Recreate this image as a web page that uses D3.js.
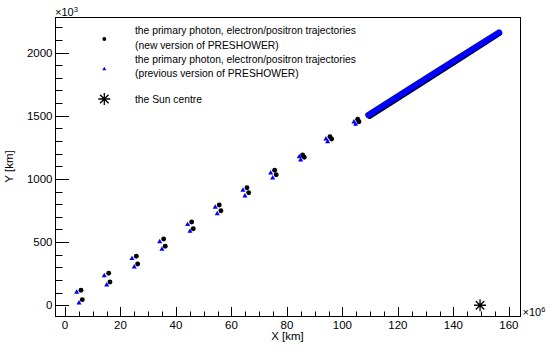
<!DOCTYPE html>
<html>
<head>
<meta charset="utf-8">
<script src="https://cdn.jsdelivr.net/npm/d3@7"></script>
<style>
  body { margin: 0; background: #fff; }
  text { font-family: "Liberation Sans", Arial, sans-serif; fill: #000; }
</style>
</head>
<body>
<svg id="chart" width="550" height="349"></svg>
<script>
// x in 10^6 km, y in 10^3 km
// new version of PRESHOWER (black circles)
var newX = [5.77, 6.23, 15.75, 16.22, 25.7, 26.2, 35.57, 36.14, 45.66, 46.23, 55.6, 56.2,
            65.59, 66.2, 75.57, 76.14, 85.66, 86.24, 95.5, 96.1, 105.5, 105.95];
var newY = [118.7, 44.3, 253, 184.3, 387.7, 326.7, 524.5, 466.8, 659, 606, 793.5, 748.4,
            930.4, 890.8, 1068, 1033, 1189, 1171, 1334, 1315.7, 1471.5, 1452.5];
// previous version of PRESHOWER (blue triangles)
var prevX = [4.22, 5.05, 14.16, 15.03, 24.14, 24.97, 34.13, 34.95, 44.2, 45.05, 54.16, 54.88,
             64.14, 64.86, 74.13, 74.85, 84.43, 84.94, 94.05, 94.67, 104.14, 104.76];
var prevY = [102.8, 18.2, 234, 160.6, 368.7, 303, 503, 443, 637.7, 585.4, 775.3, 724.7,
             909.8, 864.7, 1046.7, 1007, 1175.6, 1149.5, 1315.7, 1294, 1450, 1432];
// dense part of the trajectories (markers merge into a band)
var denseNewX = [109.8, 125.4, 141.2, 156.6];
var denseNewY = [1496, 1714, 1935, 2152];
var densePrevX = [109.3, 125, 141, 156.5];
var densePrevY = [1505, 1724, 1946, 2160];
// the Sun centre
var sunX = [149.6];
var sunY = [0];

var xTicks = [0, 20, 40, 60, 80, 100, 120, 140, 160];
var yTicks = [0, 500, 1000, 1500, 2000];
var legendLabels = [
  ["the primary photon, electron/positron trajectories", "(new version of PRESHOWER)"],
  ["the primary photon, electron/positron trajectories", "(previous version of PRESHOWER)"],
  ["the Sun centre"]
];

var svg = d3.select("#chart");
var padL = 55, padR = 520, padT = 17, padB = 316;

var x = d3.scaleLinear().domain([-3.6, 164]).range([padL, padR]);
var y = d3.scaleLinear().domain([-85, 2281]).range([padB, padT]);

// frame
svg.append("rect")
  .attr("x", padL + 0.5).attr("y", padT + 0.5)
  .attr("width", padR - padL).attr("height", padB - padT)
  .attr("fill", "none").attr("stroke", "#000").attr("stroke-width", 1);

// ticks (inward, ROOT style)
var g = svg.append("g").attr("stroke", "#000").attr("stroke-width", 1);
d3.range(0, 161, 5).forEach(function(v) {
  var major = v % 20 === 0;
  var px = Math.round(x(v)) + 0.5;
  g.append("line").attr("x1", px).attr("x2", px)
    .attr("y1", padB).attr("y2", padB - (major ? 9 : 4.5));
});
d3.range(0, 2201, 100).forEach(function(v) {
  var major = v % 500 === 0;
  var py = Math.round(y(v)) + 0.5;
  g.append("line").attr("y1", py).attr("y2", py)
    .attr("x1", padL).attr("x2", padL + (major ? 14 : 7.5));
});

svg.selectAll(".xlab").data(xTicks).enter().append("text")
  .attr("class", "xlab")
  .attr("x", function(d) { return x(d); })
  .attr("y", 329)
  .attr("text-anchor", "middle")
  .style("font-size", "11.5px")
  .text(function(d) { return d; });

svg.selectAll(".ylab").data(yTicks).enter().append("text")
  .attr("class", "ylab")
  .attr("x", 52.5)
  .attr("y", function(d) { return y(d); })
  .attr("dy", "0.36em")
  .attr("text-anchor", "end")
  .style("font-size", "11.5px")
  .text(function(d) { return d; });

// exponents
var e3 = svg.append("text").attr("x", 55).attr("y", 16).style("font-size", "11px");
e3.append("tspan").text("\u00d710");
e3.append("tspan").attr("dy", -4.5).style("font-size", "7.5px").text("3");
var e6 = svg.append("text").attr("x", 522.5).attr("y", 316).style("font-size", "11px");
e6.append("tspan").text("\u00d710");
e6.append("tspan").attr("dy", -4.5).style("font-size", "7.5px").text("6");

// axis titles
svg.append("text")
  .attr("x", (padL + padR) / 2).attr("y", 339.5)
  .attr("text-anchor", "middle")
  .style("font-size", "11.5px")
  .text("X [km]");
svg.append("text")
  .attr("transform", "translate(13," + ((padT + padB) / 2) + ") rotate(-90)")
  .attr("text-anchor", "middle")
  .style("font-size", "11.5px")
  .text("Y [km]");

// dense bands
var band = d3.line()
  .x(function(d) { return x(d[0]); })
  .y(function(d) { return y(d[1]); });
svg.append("path")
  .attr("d", band(d3.zip(denseNewX, denseNewY)))
  .attr("fill", "none").attr("stroke", "#000")
  .attr("stroke-width", 5.5).attr("stroke-linecap", "round");
svg.append("path")
  .attr("d", band(d3.zip(densePrevX, densePrevY)))
  .attr("fill", "none").attr("stroke", "#0000ff")
  .attr("stroke-width", 6).attr("stroke-linecap", "round");

var circle = d3.symbol().type(d3.symbolCircle).size(19);
var tri = d3.symbol().type(d3.symbolTriangle).size(11);

svg.selectAll(".prev").data(d3.zip(prevX, prevY)).enter().append("path")
  .attr("class", "prev")
  .attr("d", tri)
  .attr("transform", function(d) { return "translate(" + x(d[0]) + "," + y(d[1]) + ")"; })
  .attr("fill", "#0000ff");

svg.selectAll(".new").data(d3.zip(newX, newY)).enter().append("path")
  .attr("class", "new")
  .attr("d", circle)
  .attr("transform", function(d) { return "translate(" + x(d[0]) + "," + y(d[1]) + ")"; })
  .attr("fill", "#000");

function star(r) {
  var k = r * Math.SQRT1_2;
  return "M" + (-r) + ",0L" + r + ",0M0," + (-r) + "L0," + r +
         "M" + (-k) + "," + (-k) + "L" + k + "," + k +
         "M" + (-k) + "," + k + "L" + k + "," + (-k);
}

svg.selectAll(".sun").data(d3.zip(sunX, sunY)).enter().append("path")
  .attr("class", "sun")
  .attr("d", star(6))
  .attr("transform", function(d) { return "translate(" + x(d[0]) + "," + y(d[1]) + ")"; })
  .attr("fill", "none").attr("stroke", "#000").attr("stroke-width", 1.3);

// legend
var lg = svg.append("g");
var markerY = [39, 69, 99];
var textY = [[33.8, 48.5], [62.8, 77.2], [103]];
lg.append("path").attr("d", d3.symbol().type(d3.symbolCircle).size(12))
  .attr("transform", "translate(104.3," + markerY[0] + ")").attr("fill", "#000");
lg.append("path").attr("d", d3.symbol().type(d3.symbolTriangle).size(7))
  .attr("transform", "translate(104.3," + markerY[1] + ")").attr("fill", "#0000ff");
lg.append("path").attr("d", star(6))
  .attr("transform", "translate(104.3," + markerY[2] + ")")
  .attr("fill", "none").attr("stroke", "#000").attr("stroke-width", 1.3);

legendLabels.forEach(function(lines, i) {
  lines.forEach(function(s, j) {
    lg.append("text")
      .attr("x", 135).attr("y", textY[i][j])
      .style("font-size", "10.3px")
      .text(s);
  });
});
</script>
</body>
</html>
